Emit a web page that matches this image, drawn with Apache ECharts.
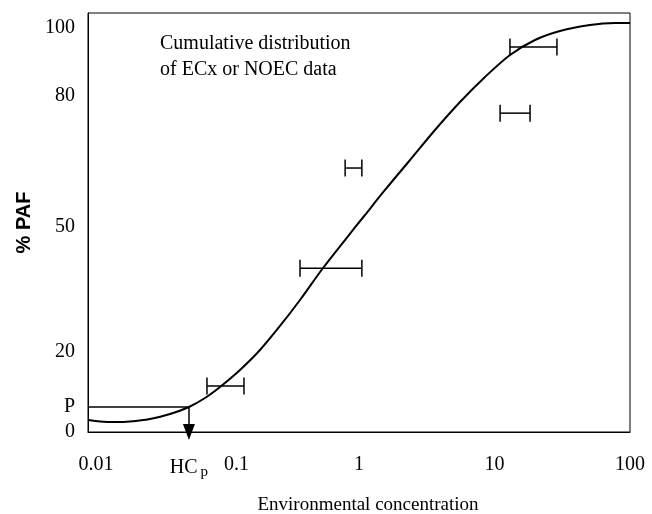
<!DOCTYPE html>
<html>
<head>
<meta charset="utf-8">
<title>PAF</title>
<script src="https://cdn.jsdelivr.net/npm/echarts@6/dist/echarts.min.js"></script>
<style>
html, body {margin: 0; padding: 0; background: #fff;}
#main {width: 652px; height: 514px;}
</style>
</head>
<body>
<div id="main"></div>
<script>
// fitted curve (y = height on the %PAF scale, frame = 0..100)
var curveX = [0.01, 0.01227, 0.01582, 0.0204, 0.02868, 0.0403, 0.0556, 0.073, 0.0942, 0.1323, 0.1859, 0.2612,
    0.3669, 0.5424, 0.788, 1.107, 1.556, 2.379, 3.638, 5.565, 8.509, 13.02, 19.9, 30.43, 50.68, 77.5, 100];
var curveY = [2.86, 2.51, 2.39, 2.51, 3.1, 4.3, 5.97, 8.11, 10.74, 14.8, 19.57, 25.3,
    31.5, 39.14, 45.82, 51.79, 57.76, 64.92, 72.08, 78.76, 84.73, 89.98, 93.56, 95.7, 97.14, 97.61, 97.61];

// ECx / NOEC ranges
var barLow = [13.0, 11.0, 0.79, 0.367, 0.0755];
var barHigh = [28.9, 18.3, 1.05, 1.05, 0.1416];
var barY = [91.9, 76.1, 63.0, 39.1, 11.0];

var hcp = 0.0556;
var pLevel = 6.0;

var xTickValues = [0.01, hcp, 0.1, 1, 10, 100];
var xTickLabels = ['{a|0.01}', 'HC{sub|p}', '{b|0.1}', '1', '10', '100'];
var yTickValues = [0, pLevel, 19.1, 48.9, 80.2, 96.4];
var yTickLabels = ['0', 'P', '20', '50', '80', '100'];

var serif = 'Liberation Serif';

function lookup(vals, labels, v, isLog) {
    for (var i = 0; i < vals.length; i++) {
        var d = isLog ? Math.abs(Math.log10(v) - Math.log10(vals[i])) : Math.abs(v - vals[i]);
        if (d < 1e-4) return labels[i];
    }
    return '';
}

var curveData = [];
for (var i = 0; i < curveX.length; i++) curveData.push([curveX[i], curveY[i]]);
var barData = [];
for (var j = 0; j < barY.length; j++) barData.push([barLow[j], barHigh[j], barY[j]]);

var myChart = echarts.init(document.getElementById('main'));
var option = {
    animation: false,
    backgroundColor: '#fff',
    grid: {
        left: 88, right: 22, top: 13, bottom: 82,
        outerBoundsMode: 'none',
        show: true, borderColor: '#000', borderWidth: 1
    },
    xAxis: {
        type: 'log',
        logBase: 10,
        min: 0.01,
        max: 100,
        name: 'Environmental concentration',
        nameLocation: 'middle',
        nameGap: 64,
        nameTextStyle: {fontFamily: serif, fontSize: 19, color: '#000', padding: [0, 0, 0, 18]},
        axisLine: {show: true, lineStyle: {color: '#000', width: 1}},
        axisTick: {show: false},
        splitLine: {show: false},
        axisLabel: {
            customValues: xTickValues,
            margin: 23,
            fontFamily: serif,
            fontSize: 20,
            color: '#000',
            formatter: function (v) { return lookup(xTickValues, xTickLabels, v, true); },
            rich: {
                a: {fontFamily: serif, fontSize: 20, color: '#000', padding: [0, 0, 0, 16]},
                b: {fontFamily: serif, fontSize: 20, color: '#000', padding: [0, 0, 0, 26]},
                sub: {fontFamily: serif, fontSize: 15, color: '#000', padding: [10, 0, 0, 3]}
            }
        }
    },
    yAxis: {
        type: 'value',
        min: 0,
        max: 100,
        name: '% PAF',
        nameLocation: 'middle',
        nameGap: 50,
        nameTextStyle: {fontFamily: 'Liberation Sans', fontWeight: 'bold', fontSize: 20, color: '#000'},
        axisLine: {show: true, lineStyle: {color: '#000', width: 1}},
        axisTick: {show: false},
        splitLine: {show: false},
        axisLabel: {
            customValues: yTickValues,
            margin: 13,
            fontFamily: serif,
            fontSize: 20,
            color: '#000',
            formatter: function (v) { return lookup(yTickValues, yTickLabels, v, false); }
        }
    },
    graphic: [{
        type: 'text',
        left: 160,
        top: 31,
        style: {
            text: 'Cumulative distribution\nof ECx or NOEC data',
            font: '20px "Liberation Serif"',
            fill: '#000',
            lineHeight: 26,
            align: 'center'
        }
    }],
    series: [
        {
            type: 'line',
            data: curveData,
            smooth: 0.3,
            showSymbol: false,
            silent: true,
            lineStyle: {color: '#000', width: 2},
            markLine: {
                silent: true,
                symbol: ['none', 'none'],
                label: {show: false},
                lineStyle: {type: 'solid', color: '#000', width: 1.5},
                data: [
                    [{coord: [0.01, pLevel]}, {coord: [hcp, pLevel]}],
                    [{coord: [hcp, pLevel]}, {coord: [hcp, 0], symbol: 'triangle', symbolSize: [12, 16]}]
                ]
            }
        },
        {
            type: 'custom',
            data: barData,
            encode: {x: [0, 1], y: 2},
            silent: true,
            renderItem: function (params, api) {
                var lo = api.coord([api.value(0), api.value(2)]);
                var hi = api.coord([api.value(1), api.value(2)]);
                var h = 8.5;
                var st = {stroke: '#000', lineWidth: 1.5};
                return {
                    type: 'group',
                    children: [
                        {type: 'line', shape: {x1: lo[0], y1: lo[1], x2: hi[0], y2: hi[1]}, style: st},
                        {type: 'line', shape: {x1: lo[0], y1: lo[1] - h, x2: lo[0], y2: lo[1] + h}, style: st},
                        {type: 'line', shape: {x1: hi[0], y1: hi[1] - h, x2: hi[0], y2: hi[1] + h}, style: st}
                    ]
                };
            }
        }
    ]
};
myChart.setOption(option);
</script>
</body>
</html>
